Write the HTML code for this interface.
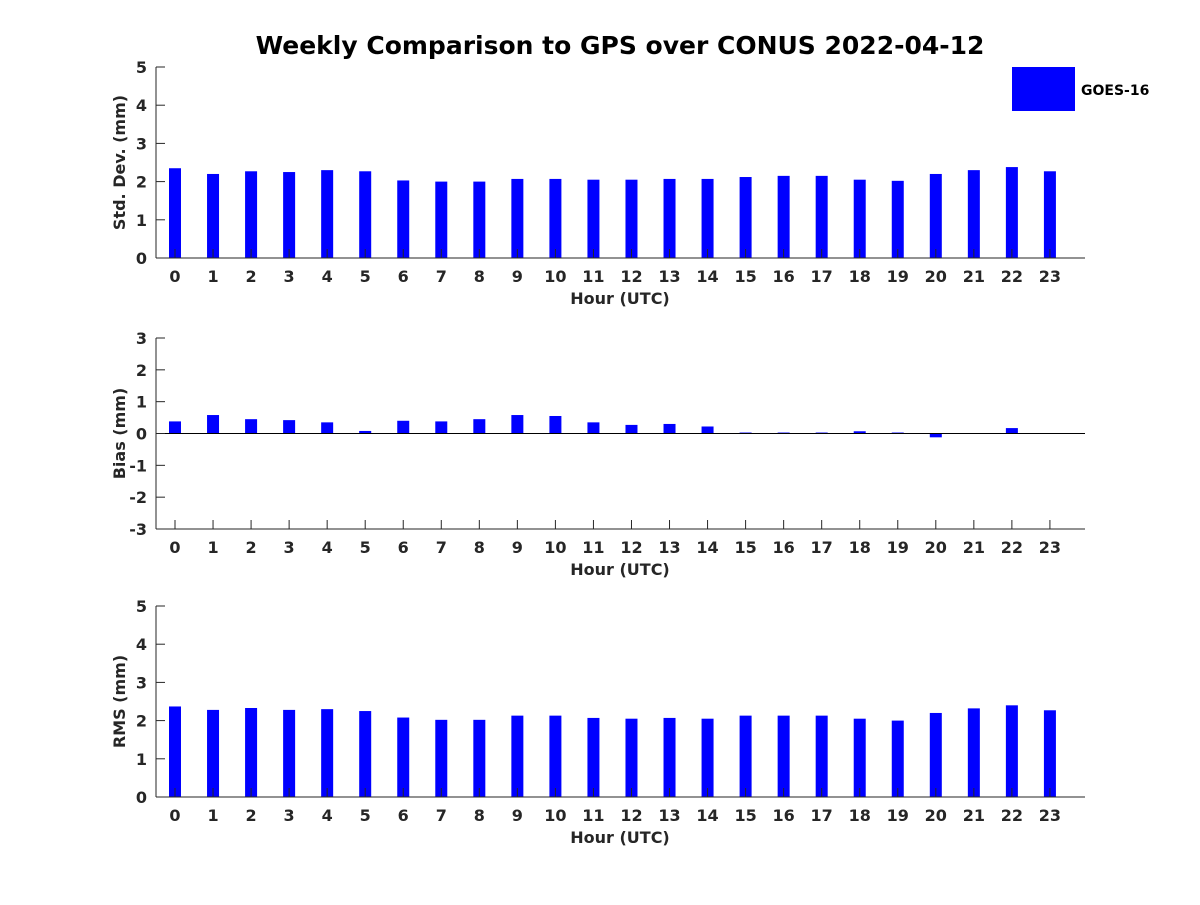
<!DOCTYPE html>
<html><head><meta charset="utf-8"><style>
body{margin:0;background:#fff;}
svg text{font-family:"DejaVu Sans","Liberation Sans",sans-serif;font-weight:bold;fill:#262626;}
</style></head><body>
<svg id="chart" width="1200" height="900" xmlns="http://www.w3.org/2000/svg">
<text x="620" y="54" text-anchor="middle" font-size="25" style="fill:#000">Weekly Comparison to GPS over CONUS 2022-04-12</text>
<g>
<rect x="1012" y="67" width="63" height="44" fill="#0000ff"/>
<text x="1081" y="95" font-size="14" style="fill:#000">GOES-16</text>
</g>
</svg>
<script>
const hours=[0,1,2,3,4,5,6,7,8,9,10,11,12,13,14,15,16,17,18,19,20,21,22,23];
const stdDev=[2.35,2.2,2.27,2.25,2.3,2.27,2.03,2.0,2.0,2.07,2.07,2.05,2.05,2.07,2.07,2.12,2.15,2.15,2.05,2.02,2.2,2.3,2.38,2.27];
const bias=[0.38,0.58,0.45,0.42,0.35,0.08,0.4,0.38,0.45,0.58,0.55,0.35,0.27,0.3,0.22,0.03,0.03,0.03,0.07,0.03,-0.12,0,0.17,0];
const rms=[2.37,2.28,2.33,2.28,2.3,2.25,2.08,2.02,2.02,2.13,2.13,2.07,2.05,2.07,2.05,2.13,2.13,2.13,2.05,2.0,2.2,2.32,2.4,2.27];
const stdTicks=[0,1,2,3,4,5];
const biasTicks=[-3,-2,-1,0,1,2,3];
const rmsTicks=[0,1,2,3,4,5];
const svg=document.getElementById('chart');
const NS='http://www.w3.org/2000/svg';
function mk(tag,attrs,parent){const e=document.createElementNS(NS,tag);for(const k in attrs)e.setAttribute(k,attrs[k]);parent.appendChild(e);return e;}
const X0=156,X1=1085;
function xs(h){return 175+h*38.04;}
function panel(name,top,bottom,ymin,ymax,vals,ticks,ylabel){
  const g=mk('g',{},svg);
  
  
  const ys=v=>bottom-(v-ymin)/(ymax-ymin)*(bottom-top);
  hours.forEach((h,i)=>{
    const v=vals[i];const y1=ys(v);
    const yb=ys(0);
    const r=mk('rect',{x:xs(h)-6,y:Math.min(yb,y1),width:12,height:Math.abs(yb-y1),fill:'#0000ff'},g);
    
    
  });
  if(ymin<0){const z=mk('line',{x1:X0,x2:X1,y1:ys(0),y2:ys(0),stroke:'#000','stroke-width':1},g);
    }
  mk('line',{x1:X0,x2:X0,y1:top,y2:bottom,stroke:'#262626','stroke-width':1},g);
  mk('line',{x1:X0,x2:X1,y1:bottom,y2:bottom,stroke:'#262626','stroke-width':1},g);
  ticks.forEach(t=>{
    mk('line',{x1:X0,x2:X0+9,y1:ys(t),y2:ys(t),stroke:'#262626'},g);
    const tx=mk('text',{x:X0-9,y:ys(t)+6,'text-anchor':'end','font-size':16},g);tx.textContent=t;
    
  });
  hours.forEach(h=>{
    mk('line',{x1:xs(h),x2:xs(h),y1:bottom,y2:bottom-9,stroke:'#262626'},g);
    const tx=mk('text',{x:xs(h),y:bottom+24,'text-anchor':'middle','font-size':16},g);tx.textContent=h;
    
  });
  const xl=mk('text',{x:620,y:bottom+46,'text-anchor':'middle','font-size':16},g);xl.textContent='Hour (UTC)';
  
  const cy=(top+bottom)/2;
  const yl=mk('text',{x:125,y:cy,'text-anchor':'middle','font-size':16,transform:'rotate(-90 125 '+cy+')'},g);yl.textContent=ylabel;
  
}
panel('std-dev',67,258,0,5,stdDev,stdTicks,'Std. Dev. (mm)');
panel('bias',338,529,-3,3,bias,biasTicks,'Bias (mm)');
panel('rms',606,797,0,5,rms,rmsTicks,'RMS (mm)');
</script>
</body></html>
